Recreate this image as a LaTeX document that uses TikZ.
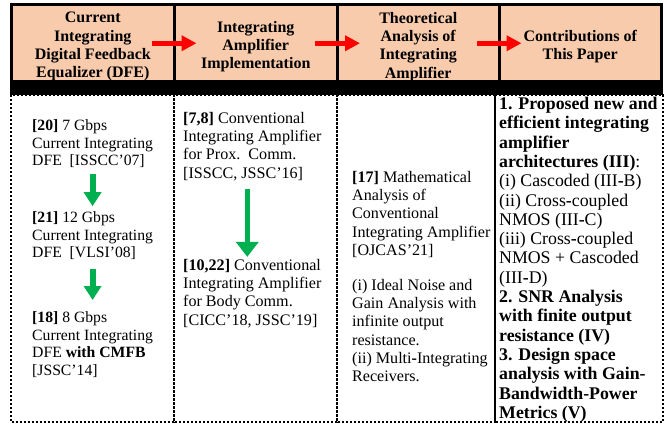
\documentclass[tikz,border=0pt]{standalone}
\usepackage{fontspec}
\setmainfont{Liberation Serif}
\usetikzlibrary{arrows.meta}
\definecolor{headpeach}{HTML}{F8CBAD}
\definecolor{arrowgreen}{HTML}{00B050}
\newcommand{\bh}{\textbf{-}}

\begin{document}
\begin{tikzpicture}[x=1pt, y=-1pt,
    cell/.style={draw, line width=3pt, fill=headpeach, minimum height=77.5pt, inner sep=0pt, outer sep=0pt},
    headtext/.style={align=center, inner sep=0pt, font=\fontsize{16}{18.3}\selectfont\bfseries},
    bodytext/.style={align=left, anchor=north west, inner sep=0pt, font=\fontsize{16.1}{18.3}\selectfont},
    colone/.style={bodytext, font=\fontsize{15.7}{17.8}\selectfont},
    colfour/.style={bodytext, font=\fontsize{17.8}{19.3}\selectfont},
    dotbox/.style={line width=2.2pt, dash pattern=on 2.2pt off 1.8pt},
    redarrow/.style={red, line width=5pt, -{Triangle[length=15pt,width=15pt]}},
    greenarrow/.style={arrowgreen, line width=6pt, -{Triangle[length=14pt,width=17pt]}}]
    \useasboundingbox (0,0) rectangle (667,425);

    % Kopfzellen
    \foreach \i/\xa/\xb in {1/11.5/174, 2/174/337.5, 3/337.5/499, 4/499/661.5}
        \node[cell, minimum width={\xb-\xa}] (c\i) at ({(\xa+\xb)/2},43.25) {};
    \fill (10,82) rectangle (663,95);

    \node[headtext] (t1) at ([yshift=-3.5pt]c1.center) {Current\\Integrating\\Digital Feedback\\Equalizer (DFE)};
    \node[headtext] (t2) at ([yshift=-3.5pt]c2.center) {Integrating\\Amplifier\\Implementation};
    \node[headtext] (t3) at ([yshift=-3.5pt]c3.center) {Theoretical\\Analysis of\\Integrating\\Amplifier};
    \node[headtext] (t4) at ([yshift=-3.5pt]c4.center) {Contributions of\\This Paper};

    % rote Pfeile
    \draw[redarrow] ([xshift=-22.5pt]c1.east) -- ([xshift=22.5pt]c2.west);
    \draw[redarrow] ([xshift=-22.5pt]c2.east) -- ([xshift=22.5pt]c3.west);
    \draw[redarrow] ([xshift=-22.5pt]c3.east) -- ([xshift=22.5pt]c4.west);

    % gepunktete Spalten
    \foreach \xa/\xb in {11/174, 174/337, 337/495, 495/663}
        \draw[dotbox] (\xa,95) rectangle (\xb,422);

    % Spalte 1
    \node[colone] (r20) at (32,119.2) {\textbf{[20]} 7 Gbps\\Current Integrating\\DFE\ \ [ISSCC’07]};
    \node[colone] (r21) at (32,211.2) {\textbf{[21]} 12 Gbps\\Current Integrating\\DFE\ \ [VLSI’08]};
    \node[colone] (r18) at (32,311.2) {\textbf{[18]} 8 Gbps\\Current Integrating\\DFE \textbf{with CMFB}\\{}[JSSC’14]};
    \draw[greenarrow, shorten <=5.5pt, shorten >=5pt] (r20.south) -- (r21.north);
    \draw[greenarrow, shorten <=8.4pt, shorten >=11.2pt] (r21.south) -- (r18.north);

    % Spalte 2
    \node[bodytext] (r78) at (183,111.9) {\textbf{[7,8]} Conventional\\Integrating Amplifier\\for Prox.\ \ Comm.\\{}[ISSCC, JSSC’16]};
    \node[bodytext] (r1022) at (183,258.9) {\textbf{[10,22]} Conventional\\Integrating Amplifier\\for Body Comm.\\{}[CICC’18, JSSC’19]};
    \draw[greenarrow, line width=5pt, -{Triangle[length=15pt,width=22pt]}, shorten <=8pt, shorten >=2pt]
        ([xshift=-5pt]r78.south) -- ([xshift=-5pt]r1022.north);

    % Spalte 3
    \node[bodytext] (r17) at (352,170.9) {\textbf{[17]} Mathematical\\Analysis of\\Conventional\\Integrating Amplifier\\{}[OJCAS’21]\\[16.5pt]
        (i) Ideal Noise and\\Gain Analysis with\\infinite output\\resistance.\\(ii) Multi\bh Integrating\\Receivers.};

    % Spalte 4
    \node[colfour] (contrib) at (499,97) {\textbf{1. Proposed new and}\\\textbf{efficient integrating}\\\textbf{amplifier}\\\textbf{architectures (III)}:\\
        (i) Cascoded (III\bh B)\\(ii) Cross\bh coupled\\NMOS (III\bh C)\\(iii) Cross\bh coupled\\NMOS + Cascoded\\(III\bh D)\\
        \textbf{2. SNR Analysis}\\\textbf{with finite output}\\\textbf{resistance (IV)}\\
        \textbf{3. Design space}\\\textbf{analysis with Gain-}\\\textbf{Bandwidth-Power}\\\textbf{Metrics (V)}};
\end{tikzpicture}
\end{document}
